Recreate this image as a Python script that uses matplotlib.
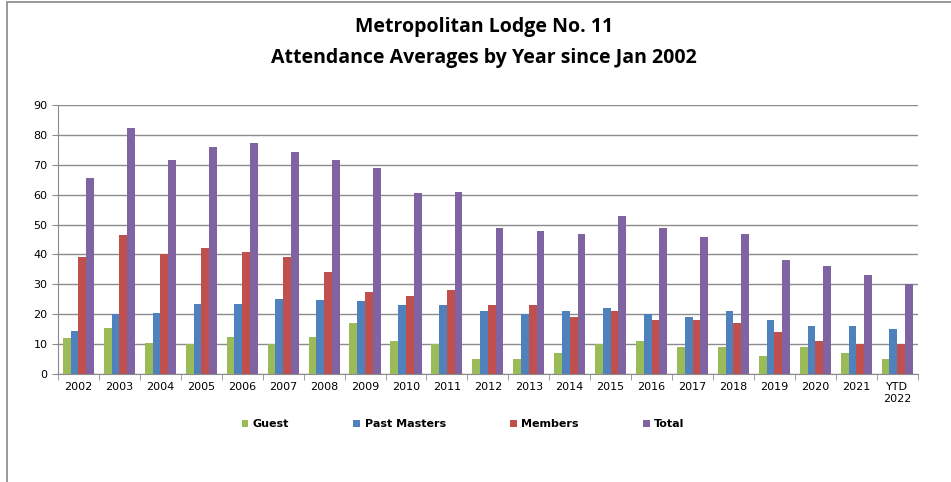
import matplotlib.pyplot as plt
import numpy as np
from matplotlib.patches import Rectangle

# Data
years = ["2002", "2003", "2004", "2005", "2006", "2007", "2008", "2009", "2010", "2011",
         "2012", "2013", "2014", "2015", "2016", "2017", "2018", "2019", "2020", "2021", "YTD\n2022"]
guest = [12, 15.5, 10.5, 10, 12.5, 10, 12.5, 17, 11, 10, 5, 5, 7, 10, 11, 9, 9, 6, 9, 7, 5]
past_masters = [14.5, 20, 20.5, 23.3, 23.5, 25, 24.7, 24.5, 23.2, 23, 21, 20, 21, 22, 20, 19, 21, 18, 16, 16, 15]
members = [39, 46.5, 40.3, 42.2, 41, 39.3, 34.3, 27.5, 26, 28, 23, 23, 19, 21, 18, 18, 17, 14, 11, 10, 10]
total = [65.5, 82.2, 71.5, 75.9, 77.3, 74.2, 71.6, 69, 60.5, 61, 49, 48, 47, 53, 49, 46, 47, 38, 36, 33, 30]

series = [("Guest", guest, "#9BBB59"),
          ("Past Masters", past_masters, "#4F81BD"),
          ("Members", members, "#C0504D"),
          ("Total", total, "#8064A2")]

fig = plt.figure(figsize=(9.51, 4.82), dpi=100)
ax = fig.add_axes([0.061, 0.224, 0.904, 0.558])

# outer chart border
fig.patches.append(Rectangle((7 / 951, -0.05), 1.0, 1.0 - 2 / 482 + 0.05, transform=fig.transFigure,
                             fill=False, edgecolor="#888888", linewidth=1.2))

x = np.arange(len(years))
w = 0.19
for i, (name, vals, col) in enumerate(series):
    ax.bar(x + (i - 1.5) * w, vals, w, color=col, label=name, zorder=3)

ax.set_xlim(-0.5, len(years) - 0.5)
ax.set_ylim(0, 90)
ax.set_yticks(range(0, 91, 10))
ax.yaxis.grid(True, color="#8c8c8c", linewidth=1.0, zorder=0)
ax.set_xticks(x)
ax.set_xticklabels(years, fontsize=8)
ax.set_xticks(np.arange(-0.5, len(years)), minor=True)
ax.tick_params(axis="x", which="major", length=0, pad=6)
ax.tick_params(axis="x", which="minor", length=4, color="#8c8c8c")
ax.tick_params(axis="y", labelsize=8, length=4, color="#8c8c8c")
for s in ["top", "right"]:
    ax.spines[s].set_visible(False)
ax.spines["left"].set_color("#8c8c8c")
ax.spines["bottom"].set_color("#8c8c8c")

fig.text(0.509, 0.945, "Metropolitan Lodge No. 11", ha="center", va="center",
         fontsize=14, fontweight="bold", family="Open Sans")
fig.text(0.509, 0.88, "Attendance Averages by Year since Jan 2002", ha="center", va="center",
         fontsize=14, fontweight="bold", family="Open Sans")

leg = fig.legend(loc="center", bbox_to_anchor=(0.487, 0.12), ncol=4, frameon=False,
                 prop={"size": 8, "weight": "bold"}, columnspacing=5.8,
                 handlelength=0.6, handleheight=0.6, handletextpad=0.4)

fig.savefig("out.png", dpi=100)
